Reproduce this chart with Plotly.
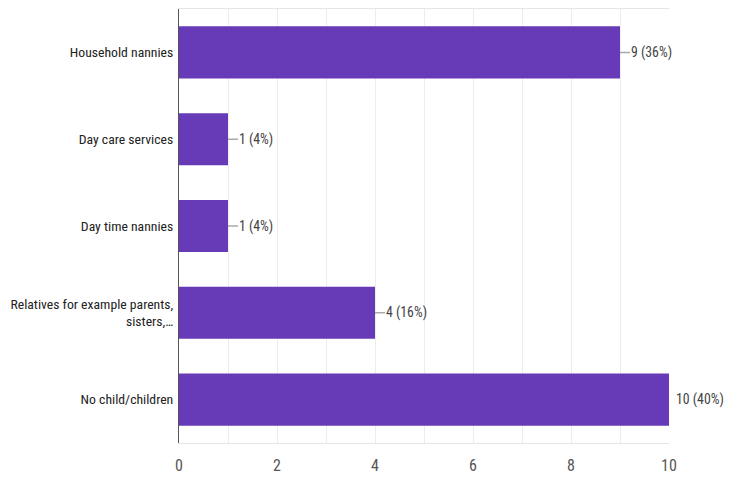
import plotly.graph_objects as go

categories = ["Household nannies", "Day care services", "Day time nannies",
              "Relatives for example parents,<br>sisters,…", "No child/children"]
counts = [9, 1, 1, 4, 10]
percents = [36, 4, 4, 16, 40]
x_ticks = [0, 2, 4, 6, 8, 10]

FONT = "Roboto Condensed, Liberation Sans Narrow, Roboto, Arial, sans-serif"
PURPLE = "#673ab7"
x_max = max(x_ticks)

fig = go.Figure(go.Bar(
    x=counts, y=categories, orientation="h",
    marker=dict(color=PURPLE, line=dict(width=0)),
    width=0.6, hoverinfo="skip",
))

for c, cat, p in zip(counts, categories, percents):
    at_edge = c >= x_max
    fig.add_annotation(
        x=c, y=cat, xref="x", yref="y",
        text=f"{c} ({p}%)", showarrow=True, arrowhead=0, arrowwidth=1.5,
        arrowcolor="rgba(0,0,0,0)" if at_edge else "#aaaaaa",
        ax=6 if at_edge else 10, ay=0, xanchor="left", standoff=0, startstandoff=0,
        font=dict(family=FONT, size=13.8, color="#444444"),
        borderpad=0,
    )

# the page adds an 8px body margin, so the figure is sized and offset for it
fig.update_layout(
    width=724, height=474,
    margin=dict(l=171, r=63, t=1, b=39, autoexpand=False),
    paper_bgcolor="white", plot_bgcolor="white",
    showlegend=False,
    font=dict(family=FONT, size=13.7, color="#333333"),
    bargap=0.4,
)
fig.update_xaxes(
    range=[0, x_max], tickvals=x_ticks, ticktext=[str(t) for t in x_ticks],
    showgrid=True, gridcolor="#ececec", gridwidth=1,
    minor=dict(dtick=1, showgrid=True, gridcolor="#ececec", gridwidth=1),
    showline=True, linecolor="#e6e6e6", mirror=True,
    zeroline=False, ticks="", ticklabelstandoff=8,
    tickfont=dict(family=FONT, size=16, color="#555555"),
    fixedrange=True, automargin=False,
)
fig.update_yaxes(
    autorange="reversed", showline=True, linecolor="#555555", linewidth=1,
    showgrid=False, ticks="", ticklabelstandoff=2, automargin=False,
    tickfont=dict(family=FONT, size=13.7, color="#222222"), fixedrange=True,
)

fig.write_html("out.html")
